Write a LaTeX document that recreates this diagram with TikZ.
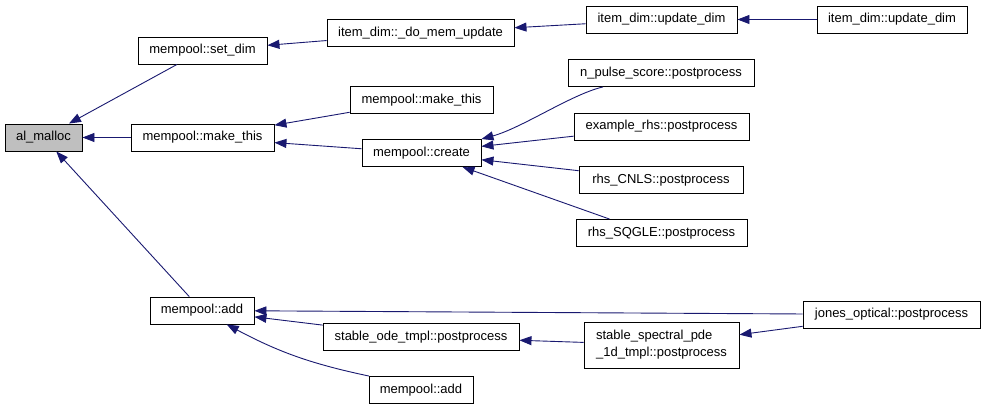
\documentclass[tikz,border=0pt]{standalone}
\usepackage{fontspec}
\setmainfont{Liberation Sans}
\usetikzlibrary{arrows.meta}
\definecolor{edgecol}{HTML}{191970}
\begin{document}
\begin{tikzpicture}[x=1pt,y=-1pt,
  box/.style={draw=black, line width=0.9pt, fill=white, inner sep=0pt, minimum height=27pt, font=\fontsize{13}{15}\selectfont},
  edge/.style={draw=edgecol, line width=0.9pt, -{Triangle[length=12pt,width=9pt]}}]
\useasboundingbox (0,0) rectangle (987,411);
% nodes
\node[box, fill=gray!50, minimum width=77pt] (alm) at (43.5,137.5) {al\_malloc};
\node[box, minimum width=129pt] (setdim) at (202.5,50.5) {mempool::set\_dim};
\node[box, minimum width=143pt] (makethis) at (202.5,137.5) {mempool::make\_this};
\node[box, minimum width=104pt] (add) at (202,310.5) {mempool::add};
\node[box, minimum width=187pt] (domem) at (420.5,33) {item\_dim::\_do\_mem\_update};
\node[box, minimum width=151pt] (updA) at (661.5,19.5) {item\_dim::update\_dim};
\node[box, minimum width=150pt] (updB) at (892,19.5) {item\_dim::update\_dim};
\node[box, minimum width=143pt] (makethisB) at (421.5,100) {mempool::make\_this};
\node[box, minimum width=119pt] (create) at (421.5,153) {mempool::create};
\node[box, minimum width=186pt] (npulse) at (661,73) {n\_pulse\_score::postprocess};
\node[box, minimum width=175pt] (exrhs) at (661.5,126.5) {example\_rhs::postprocess};
\node[box, minimum width=164pt] (cnls) at (661,180) {rhs\_CNLS::postprocess};
\node[box, minimum width=171pt] (sqgle) at (661.5,233) {rhs\_SQGLE::postprocess};
\node[box, minimum width=196pt] (stode) at (421,337) {stable\_ode\_tmpl::postprocess};
\node[box, minimum width=104pt] (addB) at (421,390) {mempool::add};
\node[box, minimum width=155pt, minimum height=46pt, align=left, font=\fontsize{13}{17}\selectfont] (stspec) at (661.5,345) {stable\_spectral\_pde\\\_1d\_tmpl::postprocess};
\node[box, minimum width=177pt] (jones) at (891.5,314.5) {jones\_optical::postprocess};
% edges
\draw[edge] (setdim) -- (alm);
\draw[edge] (makethis) -- (alm);
\draw[edge] (add) -- (alm);
\draw[edge] (domem) -- (setdim);
\draw[edge] (updA) -- (domem);
\draw[edge] (updB) -- (updA);
\draw[edge] (makethisB) -- (makethis);
\draw[edge] (create) -- (makethis);
\draw[edge] ([xshift=-58pt]npulse.south) .. controls (572,94) and (522,128) .. (create.north east);
\draw[edge] (exrhs) -- (create);
\draw[edge] (cnls) -- (create);
\draw[edge] ([xshift=-52pt]sqgle.north) -- ([xshift=41pt]create.south);
\draw[edge] (jones) -- (add);
\draw[edge] (stode) -- (add);
\draw[edge] ([xshift=-52pt]addB.north) to[bend left=8] (add);
\draw[edge] (stspec) -- (stode);
\draw[edge] (jones) -- (stspec);
\end{tikzpicture}
\end{document}
